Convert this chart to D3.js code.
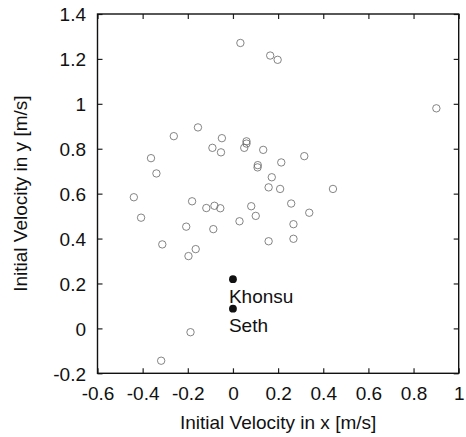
<!DOCTYPE html>
<html>
<head>
<meta charset="utf-8">
<script src="https://cdn.jsdelivr.net/npm/d3@7"></script>
<style>
  html, body { margin: 0; padding: 0; background: #fff; }
  svg { display: block; font-family: "Liberation Sans", Arial, Helvetica, sans-serif; }
</style>
</head>
<body>
<svg id="chart" width="466" height="437"></svg>
<script>
// Open-circle asteroids: initial velocity x, y [m/s]
const vx = [0.033, 0.165, 0.198, 0.901, 0.060, 0.060, 0.050, 0.134, 0.316, 0.214,
            0.110, 0.109, 0.172, 0.158, 0.209, 0.443, -0.155, -0.262, -0.049, -0.091,
            -0.053, -0.363, -0.339, -0.439, -0.181, -0.118, -0.082, -0.056, -0.407, -0.207,
            -0.087, -0.313, -0.165, -0.197, -0.188, -0.318, 0.081, 0.258, 0.101, 0.338,
            0.029, 0.268, 0.158, 0.268];
const vy = [1.271, 1.215, 1.196, 0.980, 0.833, 0.823, 0.804, 0.795, 0.767, 0.739,
            0.727, 0.717, 0.673, 0.628, 0.621, 0.621, 0.895, 0.856, 0.847, 0.804,
            0.784, 0.758, 0.690, 0.584, 0.566, 0.536, 0.546, 0.535, 0.493, 0.453,
            0.442, 0.374, 0.353, 0.322, -0.017, -0.144, 0.544, 0.556, 0.501, 0.515,
            0.477, 0.464, 0.388, 0.399];
// Labelled bodies (filled)
const namedNames = ["Khonsu", "Seth"];
const namedX = [0.0, 0.0];
const namedY = [0.219, 0.088];

const xTicks = [-0.6, -0.4, -0.2, 0, 0.2, 0.4, 0.6, 0.8, 1];
const yTicks = [-0.2, 0, 0.2, 0.4, 0.6, 0.8, 1, 1.2, 1.4];
const xTitle = "Initial Velocity in x [m/s]";
const yTitle = "Initial Velocity in y [m/s]";

(function () {
const svg = d3.select("#chart");
const L = 97.5, R = 458.7, T = 14, B = 373.3;
const x = d3.scaleLinear().domain([-0.6, 1]).range([L, R]);
const y = d3.scaleLinear().domain([-0.2, 1.4]).range([B, T]);
const fmt = d => String(+d.toFixed(1));
const FS = 19;
const tl = 5;

// Ticks on all four sides (inward)
const axB = d3.axisBottom(x).tickValues(xTicks).tickSize(-tl).tickPadding(0).tickFormat(fmt);
const axT = d3.axisTop(x).tickValues(xTicks).tickSize(-tl).tickFormat("");
const axL = d3.axisLeft(y).tickValues(yTicks).tickSize(-tl).tickFormat(fmt);
const axR = d3.axisRight(y).tickValues(yTicks).tickSize(-tl).tickFormat("");

function style(g) {
  g.select(".domain").remove();
  g.selectAll(".tick line").attr("stroke", "#222").attr("stroke-width", 1.2);
  g.selectAll(".tick text").attr("fill", "#111").attr("font-size", FS).attr("font-family", "Liberation Sans, Arial, sans-serif");
}
const gb = svg.append("g").attr("transform", `translate(0,${B})`).call(axB).call(style);
gb.selectAll(".tick text").attr("dy", null).attr("y", 27);
svg.append("g").attr("transform", `translate(0,${T})`).call(axT).call(style);
const gl = svg.append("g").attr("transform", `translate(${L},0)`).call(axL).call(style);
gl.selectAll(".tick text").attr("x", -11.5).attr("dy", "0.36em");
svg.append("g").attr("transform", `translate(${R},0)`).call(axR).call(style);

// Frame
svg.append("rect").attr("x", L).attr("y", T).attr("width", R - L).attr("height", B - T)
  .attr("fill", "none").attr("stroke", "#111").attr("stroke-width", 1.4);

// Open circles
const pts = vx.map((v, i) => ({ x: v, y: vy[i] }));
svg.append("g").selectAll("circle").data(pts).join("circle")
  .attr("cx", d => x(d.x)).attr("cy", d => y(d.y)).attr("r", 3.7)
  .attr("fill", "none").attr("stroke", "#666").attr("stroke-width", 0.8);

// Named filled points
const named = namedNames.map((n, i) => ({ name: n, x: namedX[i], y: namedY[i] }));
svg.append("g").selectAll("circle").data(named).join("circle")
  .attr("cx", d => x(d.x)).attr("cy", d => y(d.y)).attr("r", 3.9).attr("fill", "#111");
svg.append("g").selectAll("text").data(named).join("text")
  .attr("x", d => x(d.x) - 4).attr("y", d => y(d.y) + 23.4)
  .attr("font-size", FS).attr("fill", "#111").text(d => d.name);

// Axis titles
svg.append("text").attr("x", (L + R) / 2).attr("y", 429).attr("text-anchor", "middle")
  .attr("font-size", FS).attr("fill", "#111").text(xTitle);
svg.append("text").attr("transform", `translate(26.5,${(T + B) / 2}) rotate(-90)`)
  .attr("text-anchor", "middle").attr("font-size", FS).attr("fill", "#111").text(yTitle);
})();
</script>
</body>
</html>
